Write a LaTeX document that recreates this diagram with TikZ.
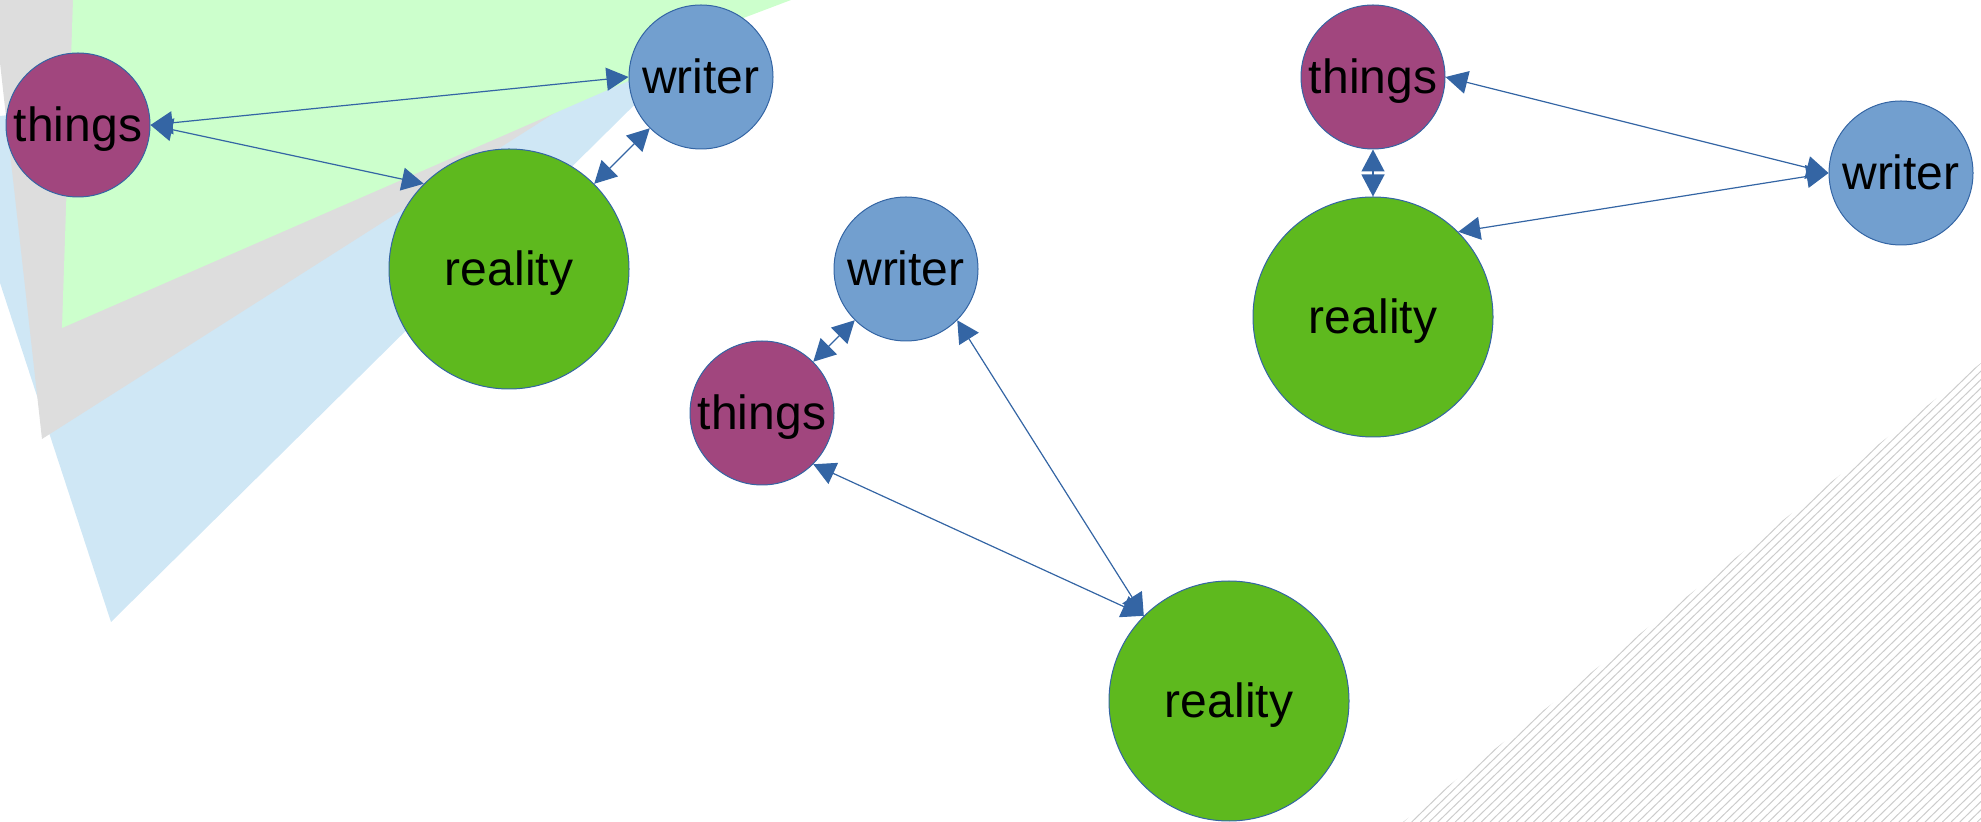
\documentclass[tikz,border=0pt]{standalone}
\usepackage{fontspec}
\setmainfont{Liberation Sans}
\usetikzlibrary{arrows.meta}
\definecolor{edgeblue}{HTML}{3465A4}
\definecolor{thingcol}{HTML}{A1467E}
\definecolor{writercol}{HTML}{729FCF}
\definecolor{realcol}{HTML}{5EB91E}
\definecolor{zonegreen}{HTML}{CCFFCC}
\definecolor{zonegray}{HTML}{DDDDDD}
\definecolor{zoneblue}{HTML}{CFE7F5}
\definecolor{hatchgray}{HTML}{CCCCCC}
\begin{document}
\begin{tikzpicture}[x=0.5pt,y=-0.5pt, line join=round, line cap=round,
	font=\fontsize{24}{28}\selectfont, >={Triangle[length=11pt,width=11.5pt]},
	ball/.style={circle,draw=edgeblue,line width=0.5pt,inner sep=0pt,text height=17pt,text depth=0pt},
	smallball/.style={ball,minimum size=72pt},
	bigball/.style={ball,minimum size=120pt},
	link/.style={<->,draw=edgeblue,line width=0.6pt},
	hatch/.style={draw=hatchgray,line width=0.5pt}]
	\useasboundingbox (0,0) rectangle (1981,822);
	\fill[zoneblue] (-53,121) -- (690,50) -- (111,622) -- cycle;
	\fill[zonegray] (-7,0) -- (150,0) -- (575,100) -- (42,439) -- cycle;
	\fill[zonegreen] (73,0) -- (791,0) -- (680,42) -- (665,65) -- (62,328) -- cycle;
	\begin{scope}
		\clip (1403,822) -- (1981,822) -- (1981,363) -- cycle;
		\foreach \i in {0,...,68}
			\draw[hatch] ({1403+8.7*\i},822) -- ++(500,-485);
	\end{scope}
	\node[smallball,fill=thingcol] (things1) at (78,125) {things};
	\node[smallball,fill=writercol] (writer1) at (701,77) {writer};
	\node[bigball,fill=realcol] (reality1) at (509,269) {reality};
	\node[smallball,fill=writercol] (writer2) at (906,269) {writer};
	\node[smallball,fill=thingcol] (things2) at (762,413) {things};
	\node[bigball,fill=realcol] (reality2) at (1229,701) {reality};
	\node[smallball,fill=thingcol] (things3) at (1373,77) {things};
	\node[smallball,fill=writercol] (writer3) at (1901,173) {writer};
	\node[bigball,fill=realcol] (reality3) at (1373,317) {reality};
	\draw[link] (things1.east) -- (writer1.west);
	\draw[link] (things1.east) -- (reality1.north west);
	\draw[link] (writer1.south west) -- (reality1.north east);
	\draw[link] (writer2.south west) -- (things2.north east);
	\draw[link] (things2.south east) -- (reality2.north west);
	\draw[link] (writer2.south east) -- (reality2.north west);
	\draw[link] (things3.east) -- (writer3.west);
	\draw[link] (writer3.west) -- (reality3.north east);
	\draw[link] (things3.south) -- (reality3.north);
\end{tikzpicture}
\end{document}
